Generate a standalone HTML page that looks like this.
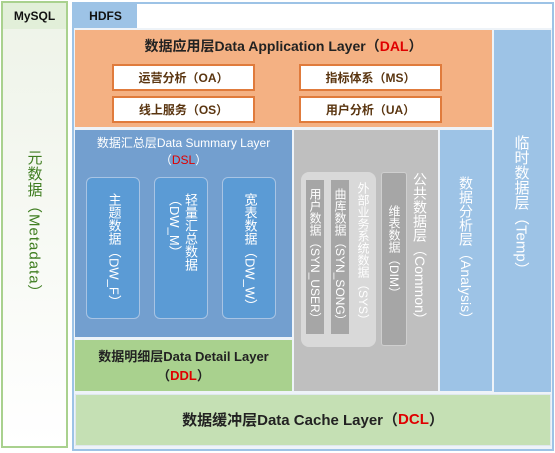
<!DOCTYPE html>
<html><head><meta charset="utf-8"><style>
*{margin:0;padding:0;box-sizing:border-box}
body{width:555px;height:453px;background:#fff;position:relative;overflow:hidden;font-family:"Liberation Sans","Noto Sans CJK SC",sans-serif}
div{position:absolute}
.c{display:flex;align-items:center;justify-content:center;text-align:center}
.t{text-align:center;white-space:nowrap}
.v{writing-mode:vertical-rl;display:flex;align-items:center;justify-content:flex-start;line-height:1}
.r{color:#e00000}
.b{background:#fff;border:2px solid #e07b3c;font-size:12px;font-weight:bold;color:#5a3510}
</style></head><body>
<div style="left:1px;top:1px;width:67px;height:447px;border:2px solid #a9d18e;background:linear-gradient(#eef3e8,#fff)"></div>
<div class="c" style="left:3px;top:3px;width:63px;height:26px;background:#e2efd9;font-size:12px;font-weight:bold;color:#111">MySQL</div>
<div class="v" style="left:22px;top:150px;width:24px;height:200px;color:#3f7d20;font-size:15px;letter-spacing:1px">元数据（Metadata）</div>

<div style="left:72px;top:2px;width:482px;height:449px;border:2px solid #9dc3e6;background:#eef3f8"></div>
<div style="left:74px;top:4px;width:478px;height:24px;background:#fff"></div>
<div class="c" style="left:74px;top:4px;width:63px;height:24px;background:#9dc3e6;font-size:12px;font-weight:bold;color:#111">HDFS</div>

<div style="left:75px;top:30px;width:417px;height:97px;background:#f4b183"></div>
<div class="t" style="left:75px;top:36px;width:417px;height:20px;font-size:14px;font-weight:bold;color:#222">数据应用层Data Application Layer（<span class="r">DAL</span>）</div>
<div class="b c" style="left:112px;top:64px;width:143px;height:27px">运营分析（OA）</div>
<div class="b c" style="left:112px;top:96px;width:143px;height:27px">线上服务（OS）</div>
<div class="b c" style="left:299px;top:64px;width:143px;height:27px">指标体系（MS）</div>
<div class="b c" style="left:299px;top:96px;width:143px;height:27px">用户分析（UA）</div>

<div style="left:494px;top:30px;width:57px;height:362px;background:#9dc3e6"></div>
<div class="v" style="left:508px;top:135px;width:26px;height:160px;color:#fff;font-size:15px">临时数据层（Temp）</div>

<div style="left:75px;top:130px;width:217px;height:207px;background:#739fcf"></div>
<div class="t" style="left:75px;top:135px;width:217px;height:36px;font-size:12px;color:#fff;line-height:17px">数据汇总层Data Summary Layer<br>（<span class="r">DSL</span>）</div>
<div style="left:86px;top:177px;width:54px;height:142px;background:#5b9bd5;border:1px solid #a8c4e4;border-radius:6px"></div>
<div style="left:154px;top:177px;width:54px;height:142px;background:#5b9bd5;border:1px solid #a8c4e4;border-radius:6px"></div>
<div style="left:222px;top:177px;width:54px;height:142px;background:#5b9bd5;border:1px solid #a8c4e4;border-radius:6px"></div>
<div class="v" style="left:104px;top:193px;width:20px;height:120px;color:#fff;font-size:13px">主题数据（DW_F）</div>
<div class="v" style="left:166px;top:193px;width:32px;height:120px;color:#fff;font-size:13px;line-height:16px">轻量汇总数据（DW_M）</div>
<div class="v" style="left:240px;top:193px;width:20px;height:120px;color:#fff;font-size:13px">宽表数据（DW_W）</div>

<div style="left:75px;top:340px;width:217px;height:51px;background:#a9d18e"></div>
<div class="t" style="left:75px;top:347px;width:217px;height:40px;font-size:13px;font-weight:bold;color:#222;line-height:19px">数据明细层Data Detail Layer<br>（<span class="r">DDL</span>）</div>

<div style="left:294px;top:130px;width:144px;height:261px;background:#bfbfbf"></div>
<div style="left:301px;top:172px;width:75px;height:175px;background:#d9d9d9;border-radius:8px"></div>
<div style="left:306px;top:180px;width:18px;height:154px;background:#a6a6a6"></div>
<div style="left:331px;top:180px;width:18px;height:154px;background:#a6a6a6"></div>
<div style="left:381px;top:172px;width:26px;height:174px;background:#a6a6a6;border:1px solid #cfcfcf;border-radius:3px"></div>
<div class="v" style="left:307px;top:188px;width:16px;height:150px;color:#fff;font-size:12px">用户数据（SYN_USER）</div>
<div class="v" style="left:332px;top:188px;width:16px;height:150px;color:#fff;font-size:12px">曲库数据（SYN_SONG）</div>
<div class="v" style="left:355px;top:182px;width:16px;height:160px;color:#fff;font-size:12px">外部业务系统数据（SYS）</div>
<div class="v" style="left:386px;top:205px;width:16px;height:140px;color:#fff;font-size:12px">维表数据（DIM）</div>
<div class="v" style="left:411px;top:172px;width:18px;height:190px;color:#fff;font-size:14px">公共数据层（Common）</div>

<div style="left:440px;top:130px;width:52px;height:261px;background:#9dc3e6"></div>
<div class="v" style="left:455px;top:176px;width:22px;height:180px;color:#fff;font-size:14px">数据分析层（Analysis）</div>

<div style="left:75px;top:394px;width:476px;height:52px;background:#c5e0b4;border:1px solid #dfe8ee"></div>
<div class="c" style="left:75px;top:394px;width:476px;height:50px;font-size:15px;font-weight:bold;color:#222">数据缓冲层Data Cache Layer（<span class="r">DCL</span>）</div>
</body></html>
